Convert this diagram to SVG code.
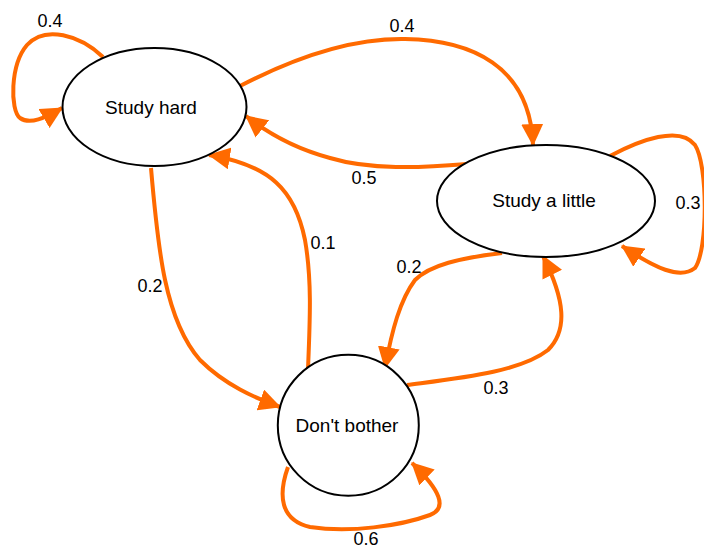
<svg xmlns="http://www.w3.org/2000/svg" width="704" height="549" viewBox="0 0 704 549">
<style>
.node{fill:#ffffff;stroke:#000000;stroke-width:2}
.lbl{font-family:"Liberation Sans",Arial,sans-serif;font-size:19px;fill:#000;text-anchor:middle}
.el{font-family:"Liberation Sans",Arial,sans-serif;font-size:18px;fill:#000;text-anchor:middle}
.edge{fill:none;stroke:#ff6a00;stroke-width:4;marker-end:url(#arr)}
</style>
<defs>
<marker id="arr" markerUnits="userSpaceOnUse" markerWidth="22" markerHeight="22" viewBox="0 0 20 20" refX="19" refY="10" orient="auto">
<path d="M0,0 L20,10 L0,20 z" fill="#ff6a00"/>
</marker>
</defs>
<rect width="704" height="549" fill="#ffffff"/>
<g id="connectors">
<path class="edge" d="M103,57 C80,35 45,25 27,45 C10,65 10,110 20,118 C30,125 45,118 62,108"/>
<path class="edge" d="M240,86 C290,60 350,38 405,39 C470,40 530,65 533,145"/>
<path class="edge" d="M467,164 C420,168 370,170 330,158 C300,150 270,135 246,116"/>
<path class="edge" d="M610,156 C640,140 680,125 695,145 C708,165 708,250 695,268 C680,280 655,268 622,246"/>
<path class="edge" d="M151,168 C158,250 165,320 200,360 C225,385 255,398 280,407"/>
<path class="edge" d="M308,369 C310,320 312,280 305,240 C295,190 270,165 209,155"/>
<path class="edge" d="M502,253 C460,258 430,265 415,280 C400,300 392,330 385,368"/>
<path class="edge" d="M407,385 C460,378 520,372 548,350 C568,330 565,300 543,256"/>
<path class="edge" d="M288,467 C278,495 280,520 310,527 C350,533 400,526 430,515 C448,508 440,490 412,463"/>
<text class="el" x="50" y="27">0.4</text>
<text class="el" x="402" y="32">0.4</text>
<text class="el" x="364" y="184">0.5</text>
<text class="el" x="688" y="209">0.3</text>
<text class="el" x="150" y="292">0.2</text>
<text class="el" x="323" y="249">0.1</text>
<text class="el" x="409" y="273">0.2</text>
<text class="el" x="496" y="394">0.3</text>
<text class="el" x="366" y="545">0.6</text>
</g>
<g id="study-hard">
<ellipse class="node" cx="154.5" cy="107" rx="92" ry="59"/>
<text class="lbl" x="151" y="114">Study hard</text>
</g>
<g id="study-a-little">
<ellipse class="node" cx="546" cy="201" rx="109" ry="56"/>
<text class="lbl" x="544" y="207">Study a little</text>
</g>
<g id="dont-bother">
<circle class="node" cx="348.3" cy="425.3" r="70.5"/>
<text class="lbl" x="347" y="432">Don't bother</text>
</g>
</svg>
